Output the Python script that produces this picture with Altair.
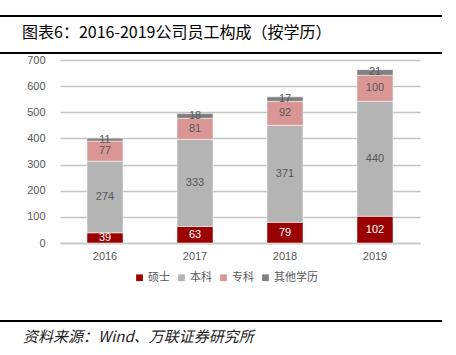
import altair as alt
import pandas as pd

years = ["2016", "2017", "2018", "2019"]
categories = ["硕士", "本科", "专科", "其他学历"]
master = [39, 63, 79, 102]
bachelor = [274, 333, 371, 440]
college = [77, 81, 92, 100]
other = [11, 18, 17, 21]
colors = ["#9b0000", "#b4b4b4", "#d99694", "#7f7f7f"]
label_colors = ["#ffffff", "#595959", "#595959", "#595959"]
y_ticks = [0, 100, 200, 300, 400, 500, 600, 700]

rows = []
for ci, (cat, vals) in enumerate(zip(categories, [master, bachelor, college, other])):
    for y, v in zip(years, vals):
        rows.append({"year": y, "cat": cat, "value": v, "order": ci})
df = pd.DataFrame(rows)

base = alt.Chart(df).transform_stack(
    stack="value", groupby=["year"], as_=["y0", "y1"],
    sort=[alt.SortField("order", "ascending")]
).transform_calculate(mid="(datum.y0 + datum.y1) / 2")

xscale = alt.Scale(paddingInner=0.6, paddingOuter=0.3)
xaxis = alt.Axis(labelAngle=0, domain=True, domainColor="#c8c8c8", domainWidth=1.5,
                 ticks=False, labelColor="#595959", labelFontSize=11,
                 labelFont="Liberation Sans", labelPadding=7)
yscale = alt.Scale(domain=[0, 700], nice=False)
yaxis = alt.Axis(values=y_ticks, tickCount=8, labelOverlap=False, domain=False,
                 ticks=False, grid=True, gridColor="#c4c4c4", gridWidth=1.5,
                 labelColor="#595959", labelFontSize=11, labelFont="Liberation Sans",
                 labelPadding=15)

bars = base.mark_bar(stroke="white", strokeWidth=0.5).encode(
    x=alt.X("year:N", title=None, scale=xscale, axis=xaxis),
    y=alt.Y("y0:Q", title=None, scale=yscale, axis=yaxis),
    y2="y1:Q",
    color=alt.Color("cat:N", scale=alt.Scale(domain=categories, range=colors),
                    legend=alt.Legend(orient="none", legendX=74, legendY=212, direction="horizontal",
                                      title=None, symbolType="square", symbolSize=45,
                                      symbolStrokeWidth=0, labelFontSize=11, labelColor="#595959",
                                      labelFont="Noto Sans CJK SC", columnPadding=6,
                                      labelOffset=3)),
)

labels = base.mark_text(fontSize=11, font="Liberation Sans", baseline="middle").encode(
    x=alt.X("year:N", title=None, scale=xscale, axis=xaxis),
    y=alt.Y("mid:Q", title=None, scale=yscale, axis=yaxis),
    text="value:Q",
    color=alt.Color("cat:N", scale=alt.Scale(domain=categories, range=label_colors), legend=None),
)

deco = pd.DataFrame({"k": [0]})
line_top = alt.Chart(deco).mark_rule(color="black", strokeWidth=2).encode(
    x=alt.value(-60), x2=alt.value(382), y=alt.value(-44))
line_mid = alt.Chart(deco).mark_rule(color="black", strokeWidth=2).encode(
    x=alt.value(-60), x2=alt.value(382), y=alt.value(-7))
line_bot = alt.Chart(deco).mark_rule(color="black", strokeWidth=2).encode(
    x=alt.value(-60), x2=alt.value(382), y=alt.value(261))
title = alt.Chart(deco).mark_text(text="图表6：2016-2019公司员工构成（按学历）", align="left",
                                   baseline="middle", fontSize=16, font="Noto Sans CJK SC",
                                   fontWeight="normal", color="#000000").encode(
    x=alt.value(-38), y=alt.value(-27))
source = alt.Chart(deco).mark_text(text="资料来源：Wind、万联证券研究所", align="left",
                                    baseline="middle", fontSize=15, font="Noto Sans CJK SC",
                                    fontStyle="italic", color="#222222").encode(
    x=alt.value(-37), y=alt.value(277))

chart = alt.layer(bars, labels, line_top, line_mid, line_bot, title, source).resolve_scale(
    color="independent"
).properties(
    width=360, height=183,
    padding={"left": 60, "top": 60, "right": 36, "bottom": 112},
    autosize=alt.AutoSizeParams(type="none"),
    background="white",
).configure_view(stroke=None)

chart.save("out.html", embed_options={"renderer": "svg", "actions": False})
